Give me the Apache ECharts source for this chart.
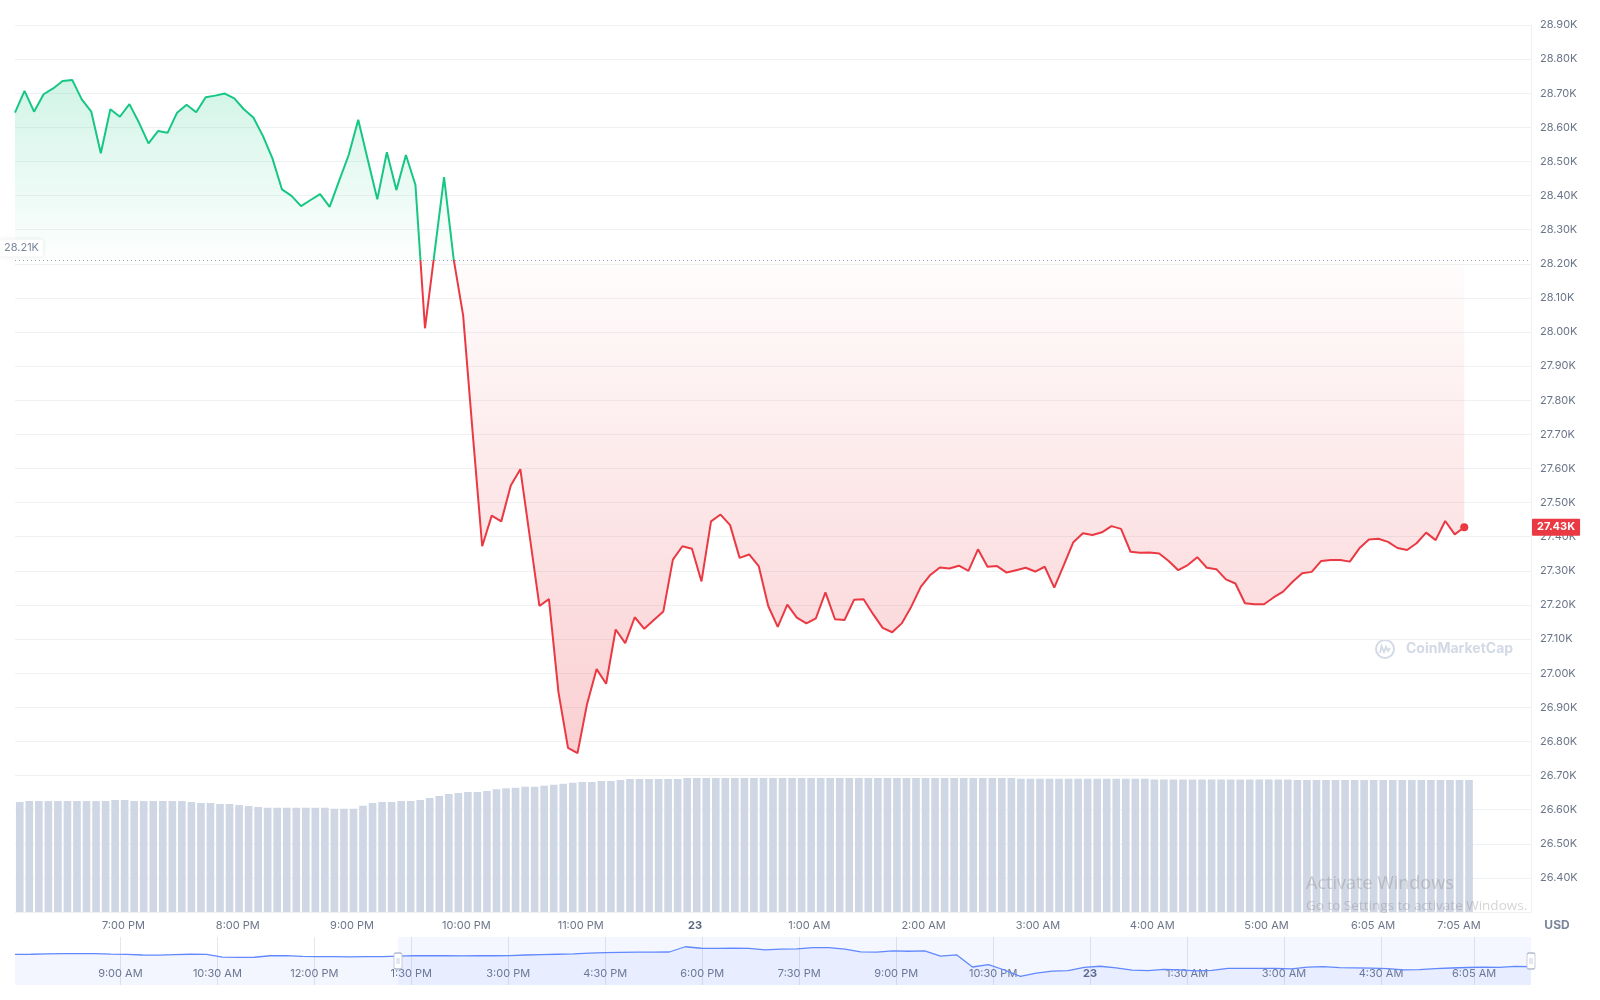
<!DOCTYPE html>
<html>
<head>
<meta charset="utf-8">
<script src="https://cdn.jsdelivr.net/npm/echarts@6/dist/echarts.min.js"></script>
<style>
html,body{margin:0;padding:0;background:#ffffff;}
#chart{width:1600px;height:1000px;}
</style>
</head>
<body>
<div id="chart"></div>
<script>
// ---------------- DATA ----------------
// BTC price, ~5 minute steps (USD)
const priceValues = [
  28643, 28707, 28646, 28697, 28714, 28736, 28739, 28682, 28646, 28524,
  28653, 28631, 28668, 28614, 28553, 28589, 28584, 28643, 28666, 28644,
  28688, 28693, 28699, 28685, 28653, 28629, 28575, 28509, 28418, 28399,
  28369, 28387, 28404, 28367, 28444, 28519, 28622, 28505, 28389, 28527,
  28416, 28519, 28431, 28011, 28232, 28454, 28215, 28049, 27705, 27372,
  27462, 27445, 27550, 27598, 27398, 27197, 27217, 26944, 26781, 26766,
  26910, 27012, 26969, 27128, 27088, 27164, 27130, 27156, 27181, 27333,
  27372, 27365, 27269, 27445, 27465, 27434, 27338, 27348, 27314, 27197,
  27136, 27201, 27163, 27146, 27161, 27237, 27158, 27156, 27215, 27217,
  27173, 27133, 27120, 27146, 27195, 27253, 27288, 27310, 27307, 27315,
  27300, 27363, 27312, 27314, 27295, 27302, 27309, 27298, 27312, 27251,
  27317, 27384, 27410, 27405, 27413, 27431, 27423, 27356, 27353, 27354,
  27351, 27329, 27302, 27317, 27340, 27309, 27305, 27275, 27263, 27205,
  27202, 27202, 27222, 27239, 27268, 27293, 27297, 27329, 27332, 27332,
  27327, 27366, 27392, 27394, 27385, 27367, 27361, 27381, 27412, 27390,
  27446, 27407, 27428
];
// 24h volume (billions USD), one bar per price step
const volumeValues = [
  14.88, 15.02, 15.02, 15.02, 15.02, 15.02, 15.02, 15.02, 15.02, 15.02,
  15.15, 15.15, 15.02, 15.02, 15.02, 15.02, 15.02, 15.02, 14.88, 14.75,
  14.75, 14.61, 14.61, 14.48, 14.34, 14.21, 14.11, 14.11, 14.11, 14.11,
  14.11, 14.11, 14.11, 13.97, 13.97, 13.97, 14.38, 14.75, 14.88, 14.88,
  15.02, 15.02, 15.15, 15.42, 15.69, 15.96, 16.10, 16.23, 16.23, 16.37,
  16.60, 16.73, 16.82, 16.95, 16.95, 17.09, 17.22, 17.36, 17.49, 17.59,
  17.59, 17.72, 17.72, 17.86, 17.99, 17.99, 17.99, 17.99, 17.99, 17.99,
  18.13, 18.13, 18.13, 18.13, 18.13, 18.13, 18.13, 18.13, 18.13, 18.13,
  18.13, 18.13, 18.13, 18.13, 18.13, 18.13, 18.13, 18.13, 18.13, 18.13,
  18.13, 18.13, 18.13, 18.13, 18.13, 18.13, 18.13, 18.13, 18.13, 18.13,
  18.13, 18.13, 18.13, 18.13, 18.13, 18.03, 18.03, 18.03, 18.03, 18.03,
  18.03, 18.03, 18.03, 18.03, 18.03, 18.03, 18.03, 18.03, 18.03, 17.93,
  17.93, 17.93, 17.93, 17.93, 17.93, 17.93, 17.93, 17.93, 17.93, 17.93,
  17.93, 17.93, 17.93, 17.93, 17.86, 17.86, 17.86, 17.86, 17.86, 17.86,
  17.86, 17.86, 17.86, 17.86, 17.86, 17.86, 17.86, 17.86, 17.86, 17.86,
  17.86, 17.86, 17.86
];
// Navigator overview price (~15 minute steps)
const navValues = [
  28240, 28250, 28270, 28285, 28290, 28285, 28260, 28240, 28200, 28185, 28230, 28250, 28240,
  28060, 28045, 28050, 28150, 28160, 28110, 28085, 28090, 28080, 28095, 28085, 28120,
  28155, 28150, 28160, 28145, 28155, 28150, 28160, 28200, 28230, 28250, 28270,
  28320, 28355, 28370, 28385, 28395, 28400, 28750, 28650, 28640, 28660, 28640, 28540, 28590, 28610,
  28690, 28690, 28585, 28405, 28395, 28480, 28450, 28470, 28120, 28215, 27400, 27560, 27200, 26780,
  26990, 27120, 27160, 27370, 27450, 27340, 27190, 27165, 27237, 27215, 27140, 27180, 27305, 27303, 27313, 27305,
  27280, 27397, 27422, 27354, 27340, 27325, 27295, 27205, 27225, 27293, 27332, 27366, 27385, 27381, 27446, 27425
];
const openPrice = 28210;

// price axis
const priceMin = 26300, priceMax = 28900, priceStep = 100;
// main time axis (hours from midnight of the 22nd)
const mainHourRange = [18.051, 31.314];
const mainTickHours = [19, 20, 21, 22, 23, 24, 25, 26, 27, 28, 29, 29.932, 30.684];
const mainTickLabels = ['7:00 PM', '8:00 PM', '9:00 PM', '10:00 PM', '11:00 PM', '23', '1:00 AM', '2:00 AM', '3:00 AM', '4:00 AM', '5:00 AM', '6:05 AM', '7:05 AM'];
// navigator time axis
const navHourRange = [7.37, 30.82];
const navTickHours = [9, 10.5, 12, 13.5, 15, 16.5, 18, 19.5, 21, 22.5, 24, 25.5, 27, 28.5, 29.94];
const navTickLabels = ['9:00 AM', '10:30 AM', '12:00 PM', '1:30 PM', '3:00 PM', '4:30 PM', '6:00 PM', '7:30 PM', '9:00 PM', '10:30 PM', '23', '1:30 AM', '3:00 AM', '4:30 AM', '6:05 AM'];
const navWindow = [24, 95]; // selected window (navigator step indices)
const priceSlotCount = 160;  // category slots of the price axis
const volumeSlotCount = 159; // category slots of the volume axis
const volumeAxisMax = 120;
const navAxisRange = [26200, 29400];

// ---------------- STYLE ----------------
const GREEN = '#16c784', RED = '#ea3943';
const LABEL = '#6b7588';
const FONT = 'Inter';

const slots = n => Array.from({length: n}, (_, i) => String(i));
const pick = (ticks, labels, v) => {
  let best = 0, d = Infinity;
  ticks.forEach((t, i) => { const dd = Math.abs(t - v); if (dd < d) { d = dd; best = i; } });
  return labels[best];
};
const kLabel = v => (v / 1000).toFixed(2) + 'K';

const pMax = Math.max(...priceValues), pMin = Math.min(...priceValues);
const split = (pMax - openPrice) / (pMax - pMin);
const lastIdx = priceValues.length - 1;
const lastVal = priceValues[lastIdx];

const chart = echarts.init(document.getElementById('chart'), null, {renderer: 'canvas'});
chart.setOption({
  animation: false,
  backgroundColor: '#ffffff',
  textStyle: {fontFamily: FONT},
  grid: [
    {left: 15, right: 69, top: 25, height: 887, containLabel: false, outerBoundsMode: 'none'},
    {left: 15, right: 69, top: 937, height: 48, containLabel: false, outerBoundsMode: 'none'}
  ],
  visualMap: {
    type: 'piecewise', show: false, seriesIndex: 0, dimension: 1,
    pieces: [
      {min: priceMin, max: openPrice, color: RED},
      {min: openPrice, max: priceMax, color: GREEN}
    ],
    outOfRange: {color: RED}
  },
  xAxis: [
    {type: 'category', gridIndex: 0, data: slots(priceSlotCount), boundaryGap: false, show: false, axisLine: {onZero: false}},
    {type: 'category', gridIndex: 0, data: slots(volumeSlotCount), boundaryGap: true, show: false, axisLine: {onZero: false}},
    {
      type: 'value', gridIndex: 0, min: mainHourRange[0], max: mainHourRange[1], position: 'bottom',
      axisLine: {show: false, onZero: false}, axisTick: {show: false}, splitLine: {show: false},
      axisLabel: {
        customValues: mainTickHours, margin: 8, color: LABEL, fontSize: 11, fontFamily: FONT,
        formatter: v => { const s = pick(mainTickHours, mainTickLabels, v); return s === '23' ? '{b|23}' : s; },
        rich: {b: {fontWeight: 'bold', color: '#58667e', fontSize: 11, fontFamily: FONT}}
      }
    },
    {type: 'category', gridIndex: 1, data: slots(navValues.length), boundaryGap: false, show: false, axisLine: {onZero: false}},
    {
      type: 'value', gridIndex: 1, min: navHourRange[0], max: navHourRange[1], position: 'bottom',
      axisLine: {show: false, onZero: false},
      axisTick: {show: false, customValues: navTickHours},
      splitLine: {show: true, lineStyle: {color: '#e3e7ef', width: 1}},
      axisLabel: {
        customValues: navTickHours, inside: true, margin: 6, color: LABEL, fontSize: 11, fontFamily: FONT,
        formatter: v => { const s = pick(navTickHours, navTickLabels, v); return s === '23' ? '{b|23}' : s; },
        rich: {b: {fontWeight: 'bold', color: '#58667e', fontSize: 11, fontFamily: FONT}}
      }
    }
  ],
  yAxis: [
    {
      type: 'value', gridIndex: 0, position: 'right', min: priceMin, max: priceMax, interval: priceStep,
      axisLine: {show: true, onZero: false, lineStyle: {color: '#eff2f5'}},
      axisTick: {show: false},
      splitLine: {show: true, lineStyle: {color: '#eff2f5', width: 1}},
      axisLabel: {showMinLabel: false, margin: 9, color: LABEL, fontSize: 11, fontFamily: FONT, formatter: kLabel}
    },
    {type: 'value', gridIndex: 0, min: 0, max: volumeAxisMax, show: false, splitLine: {show: false}},
    {type: 'value', gridIndex: 1, min: navAxisRange[0], max: navAxisRange[1], show: false, splitLine: {show: false}}
  ],
  series: [
    {
      name: 'Price', type: 'line', xAxisIndex: 0, yAxisIndex: 0, data: priceValues,
      showSymbol: false, symbol: 'none', z: 4, silent: true,
      lineStyle: {width: 2},
      areaStyle: {
        origin: openPrice,
        color: {
          type: 'linear', x: 0, y: 0, x2: 0, y2: 1,
          colorStops: [
            {offset: 0, color: 'rgba(22,199,132,0.28)'},
            {offset: split, color: 'rgba(22,199,132,0.01)'},
            {offset: split, color: 'rgba(234,57,67,0.02)'},
            {offset: 1, color: 'rgba(234,57,67,0.34)'}
          ]
        }
      },
      markLine: {
        silent: true, symbol: 'none',
        data: [
          {
            yAxis: openPrice,
            lineStyle: {color: '#9aa3b5', type: [1, 3], width: 1},
            label: {
              show: true, position: 'insideStartTop', distance: [-15, 4],
              formatter: kLabel(openPrice), color: '#7a8599', fontSize: 11, fontFamily: FONT,
              backgroundColor: '#ffffff', padding: [3, 4], borderRadius: 2,
              shadowColor: 'rgba(0,0,0,0.10)', shadowBlur: 4
            }
          },
          {
            yAxis: lastVal,
            lineStyle: {color: 'rgba(0,0,0,0)', width: 1, opacity: 1},
            label: {
              show: true, position: 'end', distance: [1, 0], opacity: 1,
              formatter: kLabel(lastVal), color: '#ffffff', fontSize: 11, fontWeight: 'bold', fontFamily: FONT,
              backgroundColor: RED, padding: [3, 5], borderRadius: 1
            }
          }
        ]
      },
      markPoint: {
        silent: true, symbol: 'circle', symbolSize: 8,
        itemStyle: {color: RED},
        label: {show: false},
        data: [{coord: [lastIdx, lastVal]}]
      }
    },
    {
      name: 'Volume', type: 'bar', xAxisIndex: 1, yAxisIndex: 1, data: volumeValues,
      barCategoryGap: '20%', silent: true, z: 1,
      itemStyle: {color: '#cfd6e4'}
    },
    {
      name: 'Overview', type: 'line', xAxisIndex: 3, yAxisIndex: 2, data: navValues,
      showSymbol: false, symbol: 'none', silent: true, z: 3,
      lineStyle: {color: '#6188ff', width: 1.3},
      itemStyle: {color: '#6188ff'},
      areaStyle: {color: 'rgba(97,136,255,0.11)'},
      markArea: {
        silent: true,
        itemStyle: {color: 'rgba(97,136,255,0.07)'},
        data: [[{xAxis: navWindow[0]}, {xAxis: navWindow[1]}]]
      },
      markPoint: {
        silent: true,
        symbol: 'path://M2,0 L6,0 Q8,0 8,2 L8,14 Q8,16 6,16 L2,16 Q0,16 0,14 L0,2 Q0,0 2,0 Z M3,5 L3,11 M5,5 L5,11',
        symbolSize: [8, 16],
        itemStyle: {color: '#ffffff', borderColor: '#b3bccd', borderWidth: 1},
        label: {show: false},
        data: [
          {coord: [navWindow[0], (navAxisRange[0] + navAxisRange[1]) / 2]},
          {coord: [navWindow[1], (navAxisRange[0] + navAxisRange[1]) / 2]}
        ]
      }
    }
  ],
  graphic: [
    {type: 'text', x: 1557, y: 925, z: 10, style: {text: 'USD', font: 'bold 12px Inter', fill: '#7a8599', align: 'center', verticalAlign: 'middle'}},
    {
      type: 'group', x: 1385, y: 649, z: 10, children: [
        {type: 'circle', shape: {cx: 0, cy: 0, r: 9}, style: {fill: 'none', stroke: '#d3d9e5', lineWidth: 2}},
        {type: 'polyline', shape: {points: [[-5, 4], [-3.5, -3], [-1, 3], [1, -2], [3, 2], [5, -1]]}, style: {fill: 'none', stroke: '#d3d9e5', lineWidth: 1.8}},
        {type: 'text', x: 21, y: 0, style: {text: 'CoinMarketCap', font: 'bold 14px Inter', fill: '#d3d9e5', verticalAlign: 'middle'}}
      ]
    },
    {type: 'text', x: 1306, y: 884, z: 20, style: {text: 'Activate Windows', font: '18px "Open Sans"', fill: 'rgba(120,120,120,0.32)', verticalAlign: 'middle'}},
    {type: 'text', x: 1306, y: 906, z: 20, style: {text: 'Go to Settings to activate Windows.', font: '13.5px "Open Sans"', fill: 'rgba(120,120,120,0.32)', verticalAlign: 'middle'}}
  ]
});
</script>
</body>
</html>
